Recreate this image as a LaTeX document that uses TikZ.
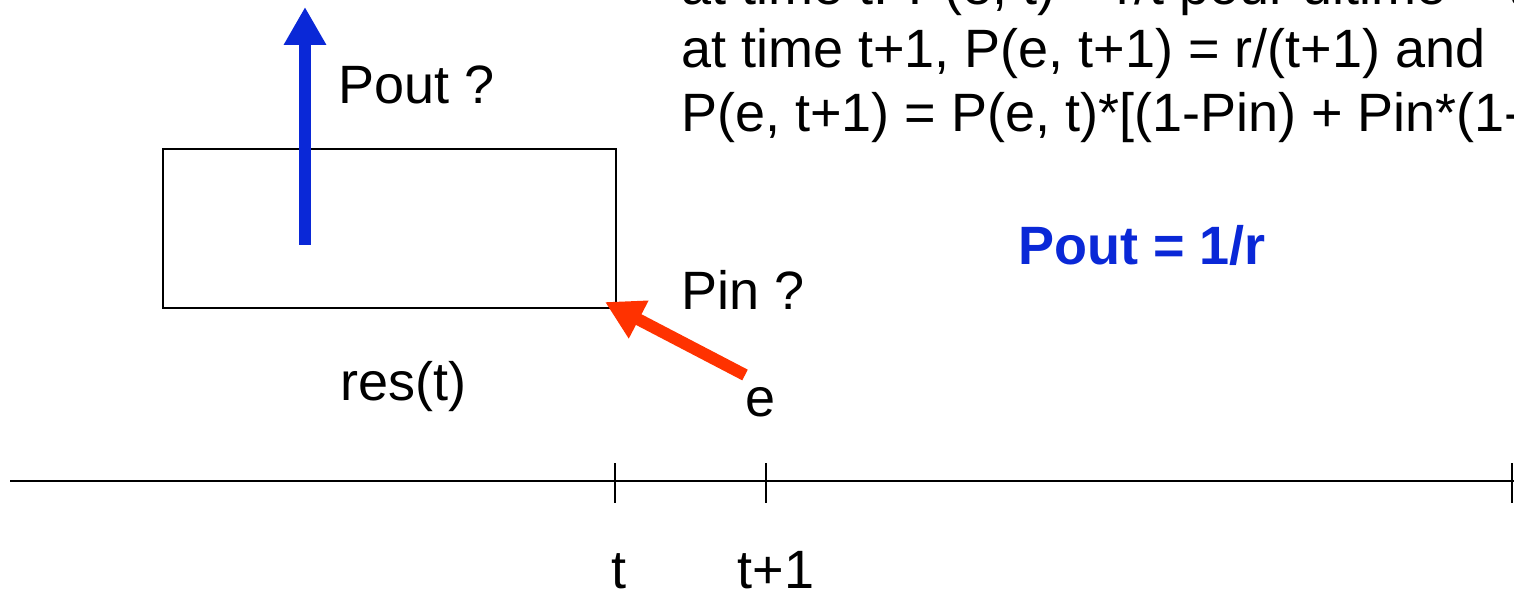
\documentclass[tikz,border=0pt]{standalone}
\usepackage{fontspec}
\setmainfont{Liberation Sans}
\usetikzlibrary{arrows.meta}
\definecolor{pblue}{RGB}{10,40,215}
\definecolor{pred}{RGB}{255,50,0}
\begin{document}
\begin{tikzpicture}[x=1pt,y=-1pt,
  txt/.style={inner sep=0pt,anchor=base west,font=\fontsize{54}{60}\selectfont},
  thin line/.style={line width=2pt},
  bigarrow/.style={line width=12pt,-{Triangle[length=38pt,width=40pt]}}]
\useasboundingbox (0,0) rectangle (1514,593);
\clip (0,0) rectangle (1514,593);
% reservoir box
\node[draw,thin line,minimum width=453pt,minimum height=159pt,inner sep=0pt,anchor=north west] (box) at (162,148) {};
% blue arrow
\coordinate (bs) at (305,245);
\coordinate (be) at (305,7);
\draw[pblue,bigarrow] (bs) -- (be);
\node[txt] (pout) at (338,104) {Pout ?};
% red arrow
\coordinate (rs) at (745,375);
\coordinate (re) at (605,302);
\draw[pred,bigarrow] (rs) -- (re);
\node[txt] (pin) at (681,310) {Pin ?};
\node[txt] (e) at (745,416) {e};
\node[txt] (res) at (340,400) {res(t)};
% text lines
\node[txt] (l1) at (681,5) {at time t: P(e, t) = r/t pour ultime = t};
\node[txt] (l2) at (681,68) {at time t+1, P(e, t+1) = r/(t+1) and};
\node[txt] (l3) at (681,132) {P(e, t+1) = P(e, t)*[(1-Pin) + Pin*(1-1/r)]};
\node[txt,text=pblue,font=\fontsize{54}{60}\selectfont\bfseries] (pr) at (1018,265) {Pout = 1/r};
% time axis
\coordinate (a0) at (10,481);
\coordinate (a1) at (1514,481);
\draw[thin line] (a0) -- (a1);
\coordinate (t0a) at (615,463); \coordinate (t0b) at (615,503);
\coordinate (t1a) at (766,463); \coordinate (t1b) at (766,503);
\coordinate (t2a) at (1512,463); \coordinate (t2b) at (1512,503);
\draw[thin line] (t0a) -- (t0b);
\draw[thin line] (t1a) -- (t1b);
\draw[thin line] (t2a) -- (t2b);
\node[txt,anchor=base] (tl) at (619,588) {t};
\node[txt,anchor=base] (tl1) at (776,588) {t+1};
\end{tikzpicture}
\end{document}
